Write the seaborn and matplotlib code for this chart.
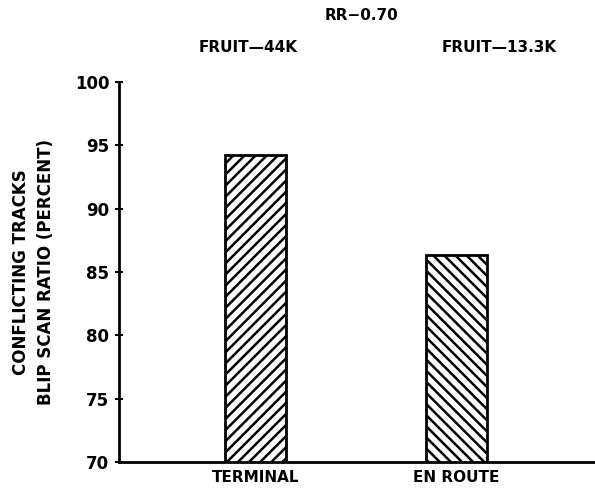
import pandas as pd
import numpy as np
import matplotlib
matplotlib.use("Agg")
import matplotlib.pyplot as plt
import seaborn as sns

# values
locations = ["TERMINAL", "EN ROUTE"]
blip_scan = [94.2, 86.3]
fruit_labels = ["FRUIT\u201444K", "FRUIT\u201413.3K"]
y_ticks = [70, 75, 80, 85, 90, 95, 100]
hatches = ["///", "\\\\\\"]

df = pd.DataFrame({"location": locations, "ratio": blip_scan})

sns.set_style("ticks")
plt.rcParams["font.family"] = ["DejaVu Sans"]
plt.rcParams["hatch.linewidth"] = 1.8
plt.rcParams["text.color"] = "black"
plt.rcParams["axes.labelcolor"] = "black"
plt.rcParams["xtick.color"] = "black"
plt.rcParams["ytick.color"] = "black"
plt.rcParams["axes.edgecolor"] = "black"

fig = plt.figure(figsize=(5.95, 4.93), dpi=100)
ax = fig.add_axes([0.2, 0.063, 0.8, 0.771])

sns.barplot(data=df, x="location", y="ratio", color="white", edgecolor="black",
            linewidth=2, width=0.3, ax=ax)
for bar, h in zip(ax.patches, hatches):
    bar.set_hatch(h)

ax.set_ylim(70, 100)
ax.set_xlim(-0.68, 1.69)
ax.set_yticks(y_ticks)
ax.set_yticklabels([str(t) for t in y_ticks], fontsize=12, fontweight="bold")
ax.set_xticks(range(len(locations)))
ax.set_xticklabels(locations, fontsize=11, fontweight="bold")
ax.tick_params(axis="y", direction="inout", length=6, width=1.5, pad=4)
ax.tick_params(axis="x", length=0, pad=6)

sns.despine(ax=ax)
ax.spines["left"].set_linewidth(2)
ax.spines["bottom"].set_linewidth(2)

ax.set_xlabel("")
ax.set_ylabel("CONFLICTING TRACKS\nBLIP SCAN RATIO (PERCENT)", fontsize=12,
              fontweight="bold", labelpad=14, linespacing=1.5)

# annotations above the bars
fig.text(362 / 595, 1 - 15 / 493, "RR\u22120.70", ha="center", va="center",
         fontsize=11, fontweight="bold")
for i, lab in enumerate(fruit_labels):
    xpix = [248, 499][i]
    fig.text(xpix / 595, 1 - 47 / 493, lab, ha="center", va="center",
             fontsize=11, fontweight="bold")

fig.savefig("out.png", dpi=100)
